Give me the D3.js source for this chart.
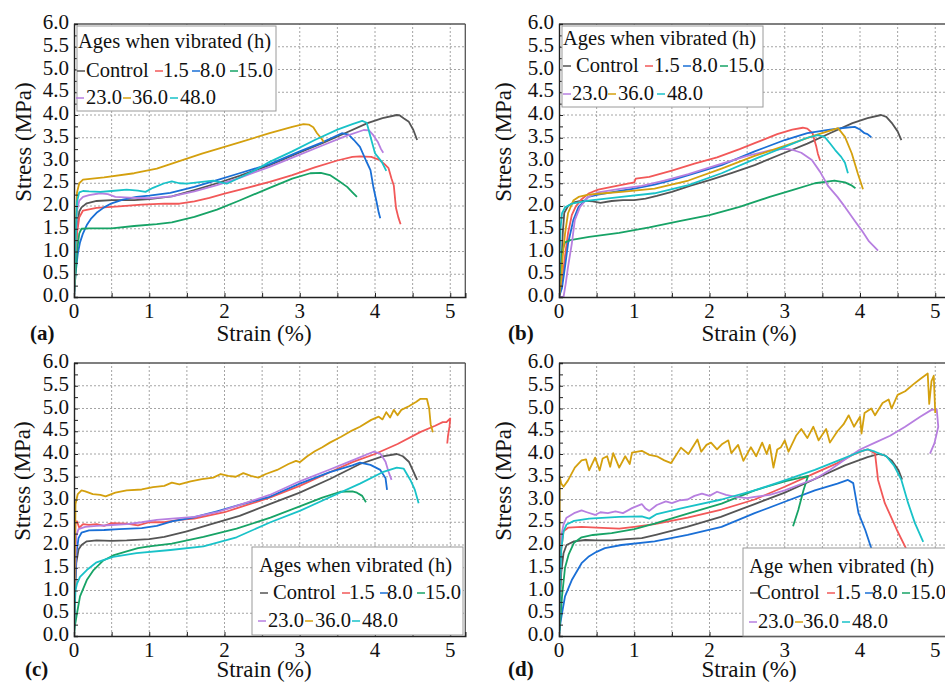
<!DOCTYPE html>
<html><head><meta charset="utf-8">
<script src="https://cdn.jsdelivr.net/npm/d3@7"></script>
<style>
body{margin:0;background:#fff}
svg{display:block}
</style>
</head><body>
<svg id="chart" width="945" height="684" font-family="'Liberation Serif', 'DejaVu Serif', serif"></svg>
<script>
// ---------- labels ----------
const seriesNames = ["Control","1.5","8.0","15.0","23.0","36.0","48.0"];
const seriesColors = ["#555555","#f25858","#1a6fd6","#17a366","#b77fe0","#d4a00e","#19c2c8"];
const xTicks = [0,1,2,3,4,5];
const yTicks = [0,0.5,1,1.5,2,2.5,3,3.5,4,4.5,5,5.5,6];
const xTitle = "Strain (%)";
const yTitle = "Stress (MPa)";
const panelLabels = ["(a)","(b)","(c)","(d)"];
const legendTitles = ["Ages when vibrated (h)","Ages when vibrated (h)","Ages when vibrated (h)","Age when vibrated (h)"];

// ---------- panel (a) : [strain %, stress MPa] ----------
const aControl = [[0,0],[0.02,0.8],[0.04,1.5],[0.07,1.88],[0.1,1.97],[0.17,2.06],[0.3,2.11],[0.5,2.13],[0.8,2.13],[1.0,2.15],[1.3,2.21],[1.6,2.35],[1.9,2.5],[2.2,2.66],[2.6,2.9],[3.0,3.18],[3.3,3.38],[3.6,3.6],[3.9,3.82],[4.1,3.93],[4.29,4.0],[4.33,3.99],[4.38,3.93],[4.45,3.85],[4.51,3.67],[4.56,3.45]];
const a15 = [[0,0],[0.02,0.8],[0.04,1.4],[0.07,1.75],[0.12,1.9],[0.3,1.96],[0.6,1.99],[0.9,2.03],[1.2,2.05],[1.4,2.05],[1.6,2.1],[1.8,2.18],[2.0,2.27],[2.3,2.4],[2.6,2.53],[2.9,2.68],[3.2,2.85],[3.5,3.0],[3.7,3.08],[3.8,3.09],[3.95,3.08],[4.05,3.02],[4.12,2.93],[4.18,2.83],[4.22,2.6],[4.25,2.45],[4.27,2.1],[4.28,1.95],[4.31,1.75],[4.34,1.6]];
const a80 = [[0,0],[0.02,0.5],[0.05,0.95],[0.08,1.2],[0.12,1.4],[0.17,1.58],[0.23,1.73],[0.3,1.85],[0.4,1.97],[0.5,2.06],[0.65,2.14],[0.83,2.2],[1.0,2.23],[1.28,2.29],[1.6,2.42],[1.9,2.57],[2.2,2.72],[2.6,2.92],[3.0,3.2],[3.3,3.4],[3.56,3.6],[3.65,3.57],[3.72,3.45],[3.8,3.3],[3.88,3.0],[3.94,2.79],[3.98,2.4],[4.02,2.1],[4.05,1.85],[4.07,1.73]];
const a150 = [[0,0],[0.02,0.5],[0.04,1.0],[0.07,1.4],[0.1,1.5],[0.2,1.51],[0.5,1.51],[0.8,1.56],[1.1,1.6],[1.3,1.64],[1.6,1.76],[1.9,1.92],[2.2,2.12],[2.6,2.4],[2.9,2.6],[3.14,2.72],[3.28,2.73],[3.4,2.68],[3.52,2.55],[3.63,2.42],[3.7,2.3],[3.76,2.2]];
const a230 = [[0,0],[0.02,1.0],[0.04,1.9],[0.07,2.12],[0.12,2.2],[0.2,2.24],[0.35,2.28],[0.45,2.26],[0.55,2.2],[0.8,2.18],[1.0,2.17],[1.3,2.21],[1.6,2.32],[1.9,2.46],[2.2,2.62],[2.6,2.86],[3.0,3.13],[3.3,3.33],[3.6,3.53],[3.85,3.67],[3.92,3.66],[3.98,3.55],[4.04,3.4],[4.08,3.25],[4.11,3.17]];
const a360 = [[0,0],[0.02,1.2],[0.04,2.3],[0.07,2.5],[0.12,2.58],[0.4,2.63],[0.8,2.72],[1.1,2.82],[1.3,2.93],[1.7,3.15],[2.2,3.4],[2.6,3.6],[2.9,3.74],[3.05,3.8],[3.12,3.79],[3.18,3.73],[3.23,3.6],[3.28,3.5],[3.32,3.41]];
const a480 = [[0,0],[0.02,1.2],[0.04,2.1],[0.07,2.3],[0.12,2.33],[0.2,2.32],[0.35,2.31],[0.5,2.33],[0.7,2.36],[0.85,2.34],[0.95,2.31],[1.05,2.4],[1.2,2.5],[1.3,2.54],[1.4,2.5],[1.5,2.49],[1.7,2.53],[1.85,2.56],[1.95,2.52],[2.03,2.49],[2.2,2.62],[2.4,2.78],[2.6,2.97],[2.9,3.2],[3.2,3.45],[3.5,3.68],[3.7,3.8],[3.83,3.87],[3.89,3.83],[3.94,3.52],[4.0,3.16],[4.09,2.97],[4.15,2.77]];

// ---------- panel (b) ----------
const bControl = [[0,0],[0.03,0.6],[0.05,1.4],[0.07,1.85],[0.12,2.0],[0.2,2.08],[0.3,2.12],[0.45,2.1],[0.55,2.07],[0.7,2.11],[0.85,2.13],[1.0,2.13],[1.15,2.16],[1.3,2.22],[1.5,2.31],[1.75,2.45],[2.0,2.57],[2.3,2.73],[2.6,2.9],[3.0,3.17],[3.3,3.37],[3.6,3.6],[3.9,3.82],[4.1,3.93],[4.28,4.0],[4.35,3.96],[4.43,3.81],[4.5,3.64],[4.55,3.45]];
const b15 = [[0,0],[0.04,0.3],[0.08,0.9],[0.12,1.4],[0.17,1.8],[0.22,1.98],[0.3,2.15],[0.4,2.28],[0.52,2.36],[0.7,2.42],[0.85,2.47],[1.0,2.52],[1.02,2.6],[1.2,2.64],[1.5,2.78],[1.8,2.93],[2.1,3.07],[2.4,3.25],[2.6,3.38],[2.9,3.58],[3.1,3.68],[3.24,3.72],[3.3,3.7],[3.37,3.6],[3.4,3.42],[3.42,3.3],[3.44,3.15],[3.47,3.0]];
const b80 = [[0,0],[0.04,0.2],[0.08,0.67],[0.12,1.17],[0.19,1.69],[0.26,1.98],[0.39,2.2],[0.52,2.25],[0.83,2.34],[1.0,2.38],[1.27,2.47],[1.5,2.57],[1.72,2.68],[2.16,2.9],[2.6,3.2],[3.0,3.45],[3.3,3.6],[3.6,3.68],[3.8,3.72],[3.93,3.74],[4.0,3.68],[4.06,3.6],[4.1,3.58],[4.15,3.51]];
const b150 = [[0,0],[0.02,0.5],[0.04,1.0],[0.08,1.2],[0.15,1.25],[0.4,1.32],[0.8,1.41],[1.2,1.53],[1.6,1.67],[2.0,1.8],[2.4,1.98],[2.8,2.2],[3.1,2.35],[3.4,2.5],[3.66,2.56],[3.8,2.52],[3.88,2.46],[3.94,2.39]];
const b230 = [[0,0],[0.06,0],[0.09,0.3],[0.12,0.66],[0.17,1.17],[0.21,1.69],[0.28,1.98],[0.39,2.2],[0.52,2.3],[0.83,2.38],[1.1,2.44],[1.4,2.56],[1.72,2.7],[2.1,2.9],[2.5,3.1],[2.8,3.22],[2.95,3.25],[3.05,3.25],[3.13,3.22],[3.22,3.17],[3.36,3.01],[3.47,2.75],[3.58,2.43],[3.7,2.2],[3.8,1.98],[3.92,1.7],[4.02,1.47],[4.12,1.22],[4.24,1.02]];
const b360 = [[0,0],[0.03,0.4],[0.05,0.9],[0.08,1.39],[0.12,1.84],[0.19,2.12],[0.26,2.2],[0.39,2.25],[0.6,2.28],[0.83,2.31],[1.27,2.38],[1.72,2.56],[2.16,2.82],[2.6,3.1],[3.0,3.32],[3.4,3.55],[3.71,3.71],[3.8,3.52],[3.89,3.16],[3.97,2.72],[4.04,2.37]];
const b480 = [[0,0],[0.01,1.0],[0.02,1.5],[0.04,1.84],[0.08,1.97],[0.17,2.05],[0.39,2.12],[0.83,2.2],[1.27,2.28],[1.72,2.46],[2.16,2.72],[2.6,3.03],[3.0,3.3],[3.3,3.5],[3.44,3.56],[3.53,3.52],[3.6,3.38],[3.67,3.23],[3.75,3.08],[3.8,2.95],[3.84,2.72]];

// ---------- panel (c) ----------
const cControl = [[0,0],[0.01,0.8],[0.03,1.6],[0.06,1.9],[0.1,2.0],[0.17,2.08],[0.3,2.1],[0.5,2.09],[0.7,2.1],[1.0,2.13],[1.2,2.18],[1.5,2.3],[1.8,2.45],[2.2,2.64],[2.6,2.9],[3.0,3.15],[3.4,3.45],[3.8,3.78],[4.1,3.95],[4.29,4.0],[4.37,3.95],[4.45,3.83],[4.5,3.65],[4.56,3.43]];
const c15 = [[0,0],[0.01,1.5],[0.02,2.5],[0.04,2.52],[0.07,2.38],[0.12,2.46],[0.2,2.44],[0.3,2.46],[0.4,2.42],[0.5,2.48],[0.7,2.47],[0.85,2.43],[1.0,2.5],[1.2,2.5],[1.4,2.55],[1.6,2.58],[1.8,2.65],[2.0,2.72],[2.3,2.88],[2.6,3.04],[3.0,3.3],[3.4,3.6],[3.7,3.82],[4.0,4.0],[4.3,4.22],[4.6,4.48],[4.8,4.62],[4.9,4.7],[4.95,4.7],[5.0,4.78],[4.99,4.6],[4.97,4.4],[4.96,4.23]];
const c80 = [[0,0],[0.01,0.8],[0.03,1.8],[0.06,2.15],[0.1,2.27],[0.2,2.32],[0.4,2.33],[0.6,2.35],[0.9,2.37],[1.1,2.42],[1.3,2.52],[1.6,2.61],[1.9,2.74],[2.2,2.88],[2.6,3.06],[3.0,3.35],[3.4,3.6],[3.7,3.75],[3.8,3.81],[3.94,3.76],[4.07,3.65],[4.14,3.47],[4.16,3.21]];
const c150 = [[0,0],[0.01,0.2],[0.04,0.5],[0.08,0.87],[0.17,1.23],[0.26,1.45],[0.39,1.66],[0.52,1.77],[0.7,1.86],[0.85,1.93],[1.0,1.97],[1.3,2.03],[1.72,2.18],[2.16,2.36],[2.61,2.6],[3.0,2.85],[3.3,3.04],[3.54,3.17],[3.7,3.18],[3.76,3.15],[3.83,3.08],[3.88,2.94]];
const c230 = [[0,0],[0.01,1.0],[0.03,2.2],[0.06,2.35],[0.15,2.4],[0.3,2.42],[0.5,2.44],[0.7,2.46],[0.9,2.5],[1.1,2.55],[1.3,2.58],[1.6,2.62],[1.9,2.72],[2.2,2.88],[2.6,3.1],[3.0,3.4],[3.4,3.66],[3.7,3.86],[3.98,4.05],[4.07,4.01],[4.14,3.83],[4.18,3.61],[4.22,3.43]];
const c360 = [[0,0],[0.01,1.5],[0.02,2.9],[0.05,3.12],[0.1,3.2],[0.15,3.18],[0.25,3.12],[0.35,3.1],[0.42,3.07],[0.55,3.15],[0.7,3.2],[0.9,3.22],[1.05,3.27],[1.2,3.3],[1.3,3.37],[1.4,3.33],[1.55,3.4],[1.7,3.45],[1.85,3.48],[1.95,3.56],[2.05,3.52],[2.15,3.5],[2.25,3.58],[2.35,3.52],[2.45,3.48],[2.55,3.56],[2.7,3.65],[2.85,3.78],[2.95,3.85],[3.0,3.82],[3.1,3.95],[3.2,4.06],[3.3,4.15],[3.4,4.25],[3.55,4.38],[3.7,4.52],[3.8,4.6],[3.95,4.75],[4.05,4.82],[4.1,4.76],[4.15,4.92],[4.2,4.8],[4.25,4.97],[4.3,4.85],[4.35,4.97],[4.45,5.05],[4.55,5.15],[4.6,5.21],[4.69,5.21],[4.72,5.0],[4.74,4.65],[4.77,4.48]];
const c480 = [[0,0],[0.01,0.6],[0.02,1.0],[0.04,1.15],[0.08,1.3],[0.17,1.45],[0.3,1.62],[0.52,1.74],[0.83,1.82],[1.28,1.89],[1.72,1.97],[2.16,2.17],[2.61,2.5],[3.0,2.75],[3.4,3.05],[3.8,3.35],[4.1,3.6],[4.29,3.7],[4.38,3.68],[4.47,3.43],[4.53,3.21],[4.58,2.92]];

// ---------- panel (d) ----------
const dControl = [[0,0],[0.01,0.6],[0.03,1.4],[0.06,1.82],[0.1,2.0],[0.2,2.08],[0.35,2.11],[0.5,2.1],[0.7,2.1],[0.9,2.13],[1.1,2.15],[1.3,2.23],[1.7,2.4],[2.15,2.62],[2.6,2.9],[3.0,3.15],[3.4,3.45],[3.8,3.75],[4.1,3.93],[4.25,4.0],[4.33,3.97],[4.42,3.86],[4.51,3.65],[4.56,3.44]];
const d15 = [[0,0],[0.01,0.8],[0.03,1.9],[0.06,2.3],[0.12,2.38],[0.3,2.4],[0.5,2.38],[0.8,2.36],[1.0,2.4],[1.27,2.46],[1.71,2.6],[2.16,2.78],[2.6,3.0],[3.0,3.28],[3.4,3.58],[3.7,3.8],[3.9,3.98],[4.05,4.08],[4.11,4.1],[4.2,4.01],[4.24,3.43],[4.33,2.92],[4.49,2.33],[4.61,1.93],[4.75,1.5]];
const d80 = [[0,0],[0.02,0.3],[0.04,0.5],[0.08,0.87],[0.17,1.23],[0.3,1.6],[0.39,1.74],[0.5,1.85],[0.61,1.93],[0.83,2.0],[1.27,2.08],[1.71,2.22],[2.16,2.4],[2.6,2.7],[3.0,2.95],[3.4,3.2],[3.7,3.35],[3.84,3.43],[3.91,3.36],[3.98,2.7],[4.07,2.33],[4.15,1.93],[4.25,1.5]];
const d150 = [[0,0],[0.02,0.4],[0.04,0.87],[0.08,1.5],[0.13,1.8],[0.2,2.05],[0.3,2.17],[0.45,2.22],[0.7,2.26],[1.0,2.35],[1.27,2.47],[1.71,2.69],[2.16,2.91],[2.6,3.2],[3.0,3.4],[3.31,3.52],[3.25,3.21],[3.18,2.77],[3.11,2.41]];
const d230 = [[0,0],[0.01,1.0],[0.03,2.2],[0.06,2.45],[0.1,2.6],[0.2,2.7],[0.3,2.76],[0.37,2.72],[0.48,2.66],[0.55,2.72],[0.65,2.7],[0.75,2.74],[0.85,2.7],[0.97,2.81],[1.1,2.9],[1.15,2.8],[1.2,2.75],[1.3,2.88],[1.42,2.96],[1.5,2.92],[1.6,2.98],[1.71,3.0],[1.8,3.08],[1.9,3.13],[2.0,3.08],[2.1,3.17],[2.22,3.1],[2.35,3.06],[2.5,3.03],[2.6,3.06],[2.8,3.1],[3.0,3.2],[3.2,3.33],[3.4,3.45],[3.6,3.65],[3.8,3.88],[4.0,4.1],[4.2,4.25],[4.4,4.4],[4.6,4.6],[4.8,4.82],[4.95,4.97],[5.02,4.98],[5.04,4.6],[4.99,4.24],[4.93,4.01]];
const d360 = [[0,0],[0.005,1.5],[0.01,3.5],[0.03,3.35],[0.06,3.28],[0.12,3.42],[0.21,3.7],[0.3,3.86],[0.36,3.88],[0.4,3.64],[0.48,3.92],[0.54,3.64],[0.58,3.9],[0.64,3.95],[0.68,3.72],[0.72,4.02],[0.8,3.7],[0.88,3.95],[0.94,3.78],[0.97,4.03],[1.1,4.07],[1.2,3.98],[1.3,3.95],[1.4,3.86],[1.49,3.8],[1.62,4.14],[1.72,4.0],[1.84,4.32],[1.89,4.05],[1.96,4.2],[2.02,4.25],[2.1,4.1],[2.17,4.22],[2.25,4.3],[2.29,4.02],[2.38,4.2],[2.45,3.85],[2.55,4.15],[2.62,3.95],[2.7,4.25],[2.76,4.0],[2.8,4.2],[2.85,3.7],[2.9,4.1],[2.95,4.15],[3.0,4.3],[3.05,4.05],[3.15,4.4],[3.22,4.55],[3.3,4.35],[3.38,4.6],[3.45,4.3],[3.55,4.55],[3.6,4.25],[3.7,4.5],[3.78,4.65],[3.85,4.85],[3.92,4.6],[4.0,4.82],[4.02,4.45],[4.06,4.9],[4.15,5.0],[4.2,4.85],[4.3,5.12],[4.38,5.2],[4.42,5.0],[4.5,5.3],[4.6,5.38],[4.7,5.52],[4.8,5.65],[4.9,5.77],[4.92,5.1],[4.95,5.6],[4.98,5.72],[5.0,4.9]];
const d480 = [[0,0],[0.01,0.8],[0.03,1.9],[0.06,2.3],[0.1,2.45],[0.2,2.53],[0.4,2.58],[0.8,2.62],[1.1,2.63],[1.2,2.58],[1.3,2.68],[1.71,2.84],[2.16,3.0],[2.6,3.2],[3.0,3.42],[3.4,3.65],[3.7,3.85],[4.0,4.05],[4.1,4.1],[4.2,4.05],[4.35,3.95],[4.45,3.75],[4.55,3.43],[4.64,2.92],[4.73,2.48],[4.84,2.07]];

// ---------- layout ----------
const panels = [
  {data:[aControl,a15,a80,a150,a230,a360,a480], x0:74, top:24, lbl:[30,340], xt:341, yt:31,
   leg:{x:77,y:26,w:199,h:85,tx:1,ty:22,r1:51,r2:78,s1:[0,78,115,153],t1:[9,86,123,160],s2:[-1,46,93],t2:[9,55,103]}},
  {data:[bControl,b15,b80,b150,b230,b360,b480], x0:559, top:24, lbl:[508,340], xt:341, yt:511,
   leg:{x:562,y:26,w:201,h:81,tx:1,ty:19,r1:46,r2:74,s1:[1,83,121,158],t1:[14,92,130,166],s2:[1,46,95],t2:[10,56,105]}},
  {data:[cControl,c15,c80,c150,c230,c360,c480], x0:74, top:363, lbl:[25,676], xt:677, yt:30,
   leg:{x:252,y:547,w:211,h:88,tx:7,ty:25,r1:52,r2:80,s1:[8,90,128,165],t1:[21,97,135,173],s2:[6,53,100],t2:[16,63,110]}},
  {data:[dControl,d15,d80,d150,d230,d360,d480], x0:559, top:363, lbl:[508,676], xt:677, yt:511,
   leg:{x:743,y:548,w:230,h:88,tx:6,ty:25,r1:51,r2:80,s1:[7,84,122,159],t1:[14,92,129,167],s2:[6,52,99],t2:[15,60,109]}}
];
const unitPx = 75.25, plotH = 273, xMax = 5.2;
const FONT = "'Liberation Serif', 'DejaVu Serif', serif";

const svg = d3.select("#chart");
panels.forEach((p,pi)=>{
  const x = d3.scaleLinear().domain([0,xMax]).range([p.x0, p.x0+xMax*unitPx]);
  const y = d3.scaleLinear().domain([0,6]).range([p.top+plotH, p.top]);
  const g = svg.append("g").attr("font-family",FONT);
  const clipId = "clip"+pi;
  g.append("clipPath").attr("id",clipId).append("rect")
    .attr("x",x(0)).attr("y",y(6)-4).attr("width",x(xMax)-x(0)).attr("height",plotH+4);

  // grid
  const grid = g.append("g").attr("stroke","#9a9a9a").attr("stroke-width",0.9).attr("stroke-dasharray","2,2");
  d3.range(0.5,xMax,0.5).forEach(v=>grid.append("line").attr("x1",x(v)).attr("x2",x(v)).attr("y1",y(0)).attr("y2",y(6)));
  yTicks.filter(v=>v>0&&v<6).forEach(v=>grid.append("line").attr("x1",x(0)).attr("x2",x(xMax)).attr("y1",y(v)).attr("y2",y(v)));

  // curves
  const line = d3.line().x(d=>x(d[0])).y(d=>y(d[1]));
  const cg = g.append("g").attr("clip-path",`url(#${clipId})`);
  p.data.forEach((s,i)=>{
    cg.append("path").attr("d",line(s)).attr("fill","none")
      .attr("stroke",seriesColors[i]).attr("stroke-width",1.8).attr("stroke-linejoin","round");
  });

  // frame
  g.append("line").attr("x1",x(0)).attr("x2",x(xMax)).attr("y1",y(6)).attr("y2",y(6)).attr("stroke","#555").attr("stroke-width",1.3);
  g.append("line").attr("x1",x(xMax)).attr("x2",x(xMax)).attr("y1",y(0)).attr("y2",y(6)).attr("stroke","#555").attr("stroke-width",1.3);

  // axes (inward ticks, no labels)
  const xAxis = d3.axisBottom(x).tickValues(d3.range(0,5.01,0.5)).tickSize(-4).tickFormat("");
  g.append("g").attr("transform",`translate(0,${y(0)})`).call(xAxis)
    .call(a=>{a.select(".domain").attr("stroke","#222").attr("stroke-width",1.4);a.selectAll(".tick line").attr("stroke","#222");});
  const yAxis = d3.axisLeft(y).tickValues(d3.range(0,6.01,0.25)).tickSize(-4).tickFormat("");
  g.append("g").attr("transform",`translate(${x(0)},0)`).call(yAxis)
    .call(a=>{a.select(".domain").attr("stroke","#222").attr("stroke-width",1.4);a.selectAll(".tick line").attr("stroke","#222");});

  // tick labels
  xTicks.forEach(v=>g.append("text").attr("x",x(v)).attr("y",y(0)+21).attr("text-anchor","middle")
    .attr("font-size",21).attr("fill","#111").text(v));
  yTicks.forEach(v=>g.append("text").attr("x",x(0)-5).attr("y",y(v)+5).attr("text-anchor","end")
    .attr("font-size",21).attr("fill","#111").text(v.toFixed(1)));

  // titles
  g.append("text").attr("x",p.x0+190).attr("y",p.xt).attr("text-anchor","middle").attr("font-size",23).attr("fill","#111").text(xTitle);
  g.append("text").attr("transform",`translate(${p.yt},${p.top+118}) rotate(-90)`).attr("text-anchor","middle")
    .attr("font-size",23).attr("fill","#111").text(yTitle);
  g.append("text").attr("x",p.lbl[0]).attr("y",p.lbl[1]).attr("font-size",21).attr("font-weight","bold").attr("fill","#111").text(panelLabels[pi]);

  // legend
  const L = p.leg;
  const lg = g.append("g").attr("transform",`translate(${L.x},${L.y})`);
  lg.append("rect").attr("width",L.w).attr("height",L.h).attr("fill","#fff").attr("stroke","#9a9a9a").attr("stroke-width",1);
  lg.append("text").attr("x",L.tx).attr("y",L.ty).attr("font-size",20.5).attr("fill","#111").text(legendTitles[pi]);
  const item = (i,sx,tx,ry)=>{
    lg.append("line").attr("x1",sx).attr("x2",sx+8).attr("y1",ry-6).attr("y2",ry-6)
      .attr("stroke",seriesColors[i]).attr("stroke-width",1.5);
    lg.append("text").attr("x",tx).attr("y",ry).attr("font-size",20.5).attr("fill","#111").text(seriesNames[i]);
  };
  for(let i=0;i<4;i++) item(i,L.s1[i],L.t1[i],L.r1);
  for(let i=0;i<3;i++) item(i+4,L.s2[i],L.t2[i],L.r2);
});
</script>
</body></html>
